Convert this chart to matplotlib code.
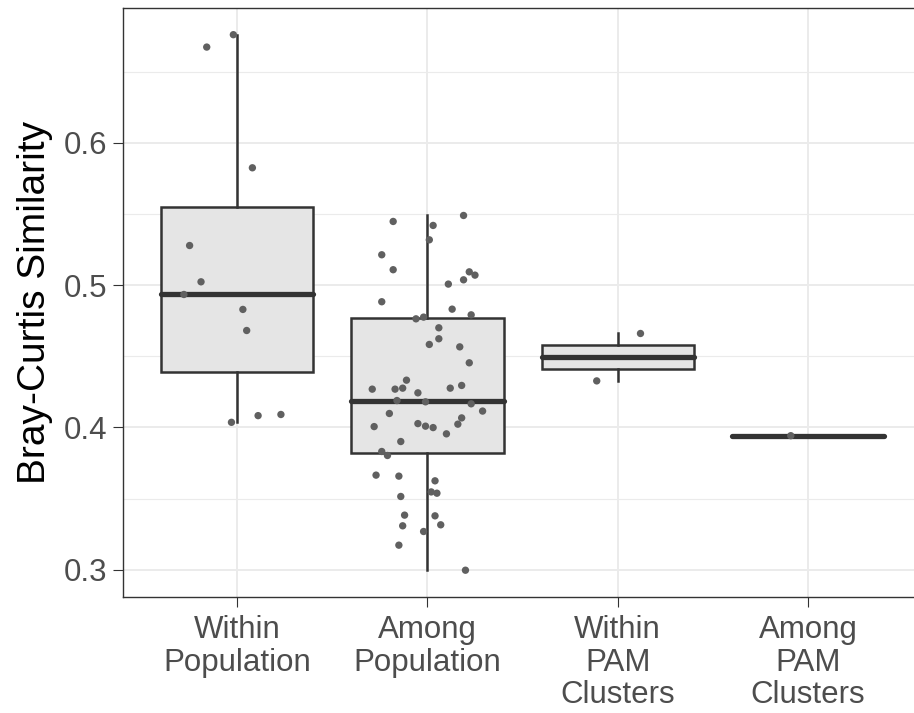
import numpy as np
import matplotlib
matplotlib.use("Agg")
import matplotlib.pyplot as plt
from matplotlib.ticker import MultipleLocator

plt.rcParams['font.family'] = ['Liberation Sans', 'DejaVu Sans']

categories = ["Within\nPopulation", "Among\nPopulation", "Within\nPAM\nClusters", "Among\nPAM\nClusters"]

within_pop = [0.6759, 0.6672, 0.5824, 0.5278, 0.5023, 0.4934, 0.4829, 0.4681,
              0.4036, 0.4083, 0.4091]
within_pop_jitter = [-0.02, -0.16, 0.08, -0.25, -0.19, -0.28, 0.03, 0.05,
                     -0.03, 0.11, 0.23]

among_pop = [0.5489, 0.5447, 0.5419, 0.5318, 0.5213, 0.5108, 0.5093, 0.5070,
             0.5037, 0.5007, 0.4883, 0.4831, 0.4763, 0.4775, 0.4791, 0.4700,
             0.4623, 0.4583, 0.4566, 0.4454, 0.4332, 0.4269, 0.4269, 0.4276,
             0.4276, 0.4295, 0.4243, 0.4189, 0.4180, 0.4166, 0.4115, 0.4098,
             0.4067, 0.4023, 0.4006, 0.4027, 0.4009, 0.3999, 0.3955, 0.3901,
             0.3831, 0.3803, 0.3665, 0.3658, 0.3625, 0.3547, 0.3538, 0.3515,
             0.3384, 0.3309, 0.3379, 0.3316, 0.3269, 0.3173, 0.2997]
among_pop_jitter = [0.19, -0.18, 0.03, 0.01, -0.24, -0.18, 0.22, 0.25,
                    0.19, 0.11, -0.24, 0.13, -0.06, -0.02, 0.23, 0.06,
                    0.06, 0.01, 0.17, 0.22, -0.11, -0.29, -0.17, -0.13,
                    0.12, 0.18, -0.05, -0.16, -0.01, 0.23, 0.29, -0.20,
                    0.18, 0.16, -0.28, -0.05, -0.01, 0.03, 0.10, -0.14,
                    -0.24, -0.21, -0.27, -0.15, 0.04, 0.02, 0.05, -0.14,
                    -0.12, -0.13, 0.04, 0.07, -0.02, -0.15, 0.20]

within_pam = [0.4660, 0.4327]
within_pam_jitter = [0.12, -0.11]

among_pam = [0.3942]
among_pam_jitter = [-0.09]

groups = [within_pop, among_pop, within_pam, among_pam]
jitters = [within_pop_jitter, among_pop_jitter, within_pam_jitter, among_pam_jitter]

fig = plt.figure(figsize=(9.14, 7.13), dpi=100)
# panel runs slightly past the right edge of the canvas
ax = fig.add_axes([0.1346, 0.1627, 0.8742, 0.8262])

positions = np.arange(1, len(groups) + 1)
edge = "#333333"
ax.boxplot(groups, positions=positions, widths=0.8, whis=1.5,
           patch_artist=True, showcaps=False, showfliers=False,
           boxprops=dict(facecolor="#E5E5E5", edgecolor=edge, linewidth=1.8),
           whiskerprops=dict(color=edge, linewidth=1.8),
           medianprops=dict(color=edge, linewidth=3.8, solid_capstyle="round"),
           zorder=2)

for pos, vals, jit in zip(positions, groups, jitters):
    ax.scatter(pos + np.array(jit), vals, s=28, color="#606060",
               edgecolors="none", zorder=3)

allvals = np.concatenate([np.array(g) for g in groups])
lo, hi = allvals.min(), allvals.max()
pad = 0.05 * (hi - lo)
ax.set_ylim(lo - pad, hi + pad)
ax.set_xlim(0.4, len(groups) + 0.6)

ax.set_xticks(positions)
ax.set_xticklabels(categories, linespacing=1.1)
ax.yaxis.set_minor_locator(MultipleLocator(0.05))
ax.set_yticks([0.3, 0.4, 0.5, 0.6])
ax.set_yticklabels(["0.3", "0.4", "0.5", "0.6"])

ax.grid(True, which="major", color="#EBEBEB", linewidth=1.4, zorder=0)
ax.grid(True, which="minor", axis="y", color="#EBEBEB", linewidth=0.8, zorder=0)
ax.set_axisbelow(True)

for s in ax.spines.values():
    s.set_color(edge)
    s.set_linewidth(1.0)

ax.tick_params(axis="both", which="major", length=7.2, width=0.8, color=edge,
               labelsize=22.5, labelcolor="#4D4D4D", pad=4)
ax.tick_params(axis="x", which="major", pad=6)
ax.tick_params(axis="y", which="minor", length=0)

ax.set_ylabel("Bray-Curtis Similarity", fontsize=28, color="black", labelpad=8)

fig.savefig("out.png", dpi=100)
